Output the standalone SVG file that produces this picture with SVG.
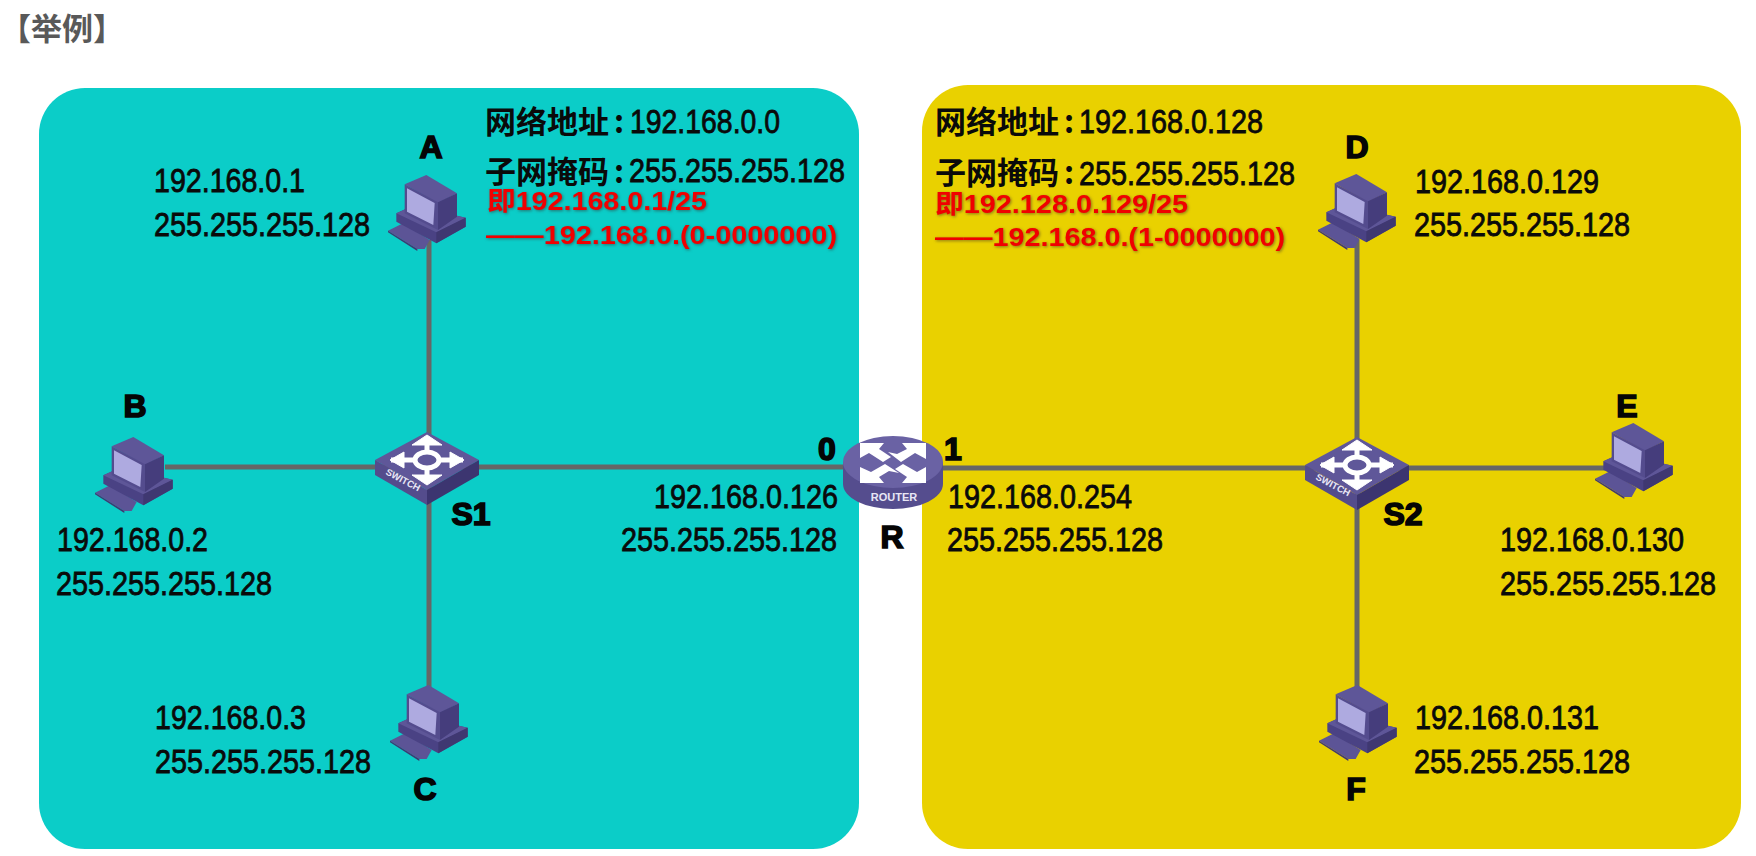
<svg xmlns="http://www.w3.org/2000/svg" width="1756" height="856" viewBox="0 0 1756 856">
<style>
text{font-family:"Liberation Sans","Noto Sans CJK SC",sans-serif}
.ip{font-size:33px;fill:#0a0a0a;stroke:#0a0a0a;stroke-width:.8px}
.cj{font-family:"Noto Sans CJK SC","Liberation Sans",sans-serif;font-size:31px;font-weight:700;fill:#0a0a0a}
.red{font-size:26px;font-weight:700;fill:#f00000;filter:drop-shadow(1.5px 1.5px 1.5px rgba(60,40,40,.55))}
.lab{font-size:32px;font-weight:700;fill:#050505;stroke:#050505;stroke-width:1.6px;text-anchor:middle}
.lnk{stroke:#666;stroke-width:5;fill:none}
</style>
<defs>
<g id="pc" transform="scale(.3333)">
<polygon points="0,167 45,145 125,195 110,222 88,222" fill="#5c5496"/>
<polygon points="0,167 88,222 88,228 0,172" fill="#3f3871"/>
<polygon points="25,115 75,92 233,128 233,155 145,205 25,140" fill="#4a4284"/>
<polygon points="25,115 145,172 233,128 75,92" fill="#5e5698"/>
<polygon points="145,172 233,128 233,155 145,205" fill="#3f3871"/>
<polygon points="50,28 115,0 207,55 150,85" fill="#5e5698"/>
<polygon points="150,82 207,55 207,125 150,165" fill="#453d7c"/>
<polygon points="50,28 150,82 150,165 50,115" fill="#544c8e"/>
<polygon points="57,40 140,84 136,150 57,110" fill="#aeaae0"/>
</g>
<g id="sw" transform="translate(-52,-28)">
<polygon points="0,28 52,0 104,28 52,58" fill="#5f5799"/>
<polygon points="0,28 52,58 52,73 0,43" fill="#544c8c"/>
<polygon points="52,58 104,28 104,43 52,73" fill="#3c3570"/>
<g fill="#fff" stroke="#fff">
<path d="M52,8V48M16,28H88" stroke-width="5" fill="none"/>
<polygon points="52,3 37,13 67,13"/>
<polygon points="52,53 37,43 67,43"/>
<polygon points="15,28 29,20 29,36"/>
<polygon points="89,28 75,20 75,36"/>
<ellipse cx="52" cy="28" rx="12" ry="8" fill="#5f5799" stroke-width="5"/>
</g>
<text transform="translate(10,42) rotate(28)" font-size="9.5" font-weight="700" fill="#e8e6f5">SWITCH</text>
</g>
<g id="rt">
<path d="M-50,0V22A50,25 0 0 0 50,22V0Z" fill="#554d8e"/>
<ellipse cx="0" cy="0" rx="50" ry="26" fill="#6a62a4"/>
<g fill="#fff">
<polygon points="-33,-19 -9,-19 -14,-13 -2,-5 -10,0 -24,-9 -33,-4"/>
<polygon points="33,-19 9,-19 14,-13 4,-8 -5,-10 8,0 22,-9 33,-3"/>
<polygon points="-33,21 -9,21 -14,15 -4,9 6,11 -8,2 -22,10 -33,5"/>
<polygon points="33,21 9,21 14,15 2,7 10,2 24,10 33,5"/>
</g>
<text x="1" y="39" font-size="11" font-weight="700" fill="#e8e6f5" text-anchor="middle">ROUTER</text>
</g>
</defs>
<rect width="1756" height="856" fill="#fff"/>
<text x="0" y="40" font-size="31" font-weight="700" fill="#595959" style="font-family:'Noto Sans CJK SC',sans-serif">【举例】</text>
<rect id="net-left" x="39" y="88" width="820" height="761" rx="46" fill="#0bcdc8"/>
<rect id="net-right" x="922" y="85" width="819" height="764" rx="46" fill="#e9d100"/>
<g id="connectors">
<path class="lnk" d="M429,240V700M165,467H845"/>
<path class="lnk" d="M1357,240V700M940,468H1620"/>
</g>
<g id="A"><use href="#pc" x="388" y="175"/><text class="lab" x="431" y="158">A</text><text class="ip" x="154" y="192" textLength="151" lengthAdjust="spacingAndGlyphs">192.168.0.1</text><text class="ip" x="154" y="236" textLength="216" lengthAdjust="spacingAndGlyphs">255.255.255.128</text></g>
<g id="B"><use href="#pc" x="95" y="437"/><text class="lab" x="135" y="417">B</text><text class="ip" x="57" y="551" textLength="151" lengthAdjust="spacingAndGlyphs">192.168.0.2</text><text class="ip" x="56" y="595" textLength="216" lengthAdjust="spacingAndGlyphs">255.255.255.128</text></g>
<g id="C"><use href="#pc" x="390" y="685"/><text class="lab" x="425" y="800">C</text><text class="ip" x="155" y="729" textLength="151" lengthAdjust="spacingAndGlyphs">192.168.0.3</text><text class="ip" x="155" y="773" textLength="216" lengthAdjust="spacingAndGlyphs">255.255.255.128</text></g>
<g id="D"><use href="#pc" x="1318" y="174"/><text class="lab" x="1357" y="158">D</text><text class="ip" x="1415" y="193" textLength="184" lengthAdjust="spacingAndGlyphs">192.168.0.129</text><text class="ip" x="1414" y="236" textLength="216" lengthAdjust="spacingAndGlyphs">255.255.255.128</text></g>
<g id="E"><use href="#pc" x="1595" y="423"/><text class="lab" x="1627" y="417">E</text><text class="ip" x="1500" y="551" textLength="184" lengthAdjust="spacingAndGlyphs">192.168.0.130</text><text class="ip" x="1500" y="595" textLength="216" lengthAdjust="spacingAndGlyphs">255.255.255.128</text></g>
<g id="F"><use href="#pc" x="1319" y="685"/><text class="lab" x="1356" y="800">F</text><text class="ip" x="1415" y="729" textLength="184" lengthAdjust="spacingAndGlyphs">192.168.0.131</text><text class="ip" x="1414" y="773" textLength="216" lengthAdjust="spacingAndGlyphs">255.255.255.128</text></g>
<g id="S1"><use href="#sw" x="427" y="460"/><text class="lab" x="471" y="525">S1</text></g>
<g id="S2"><use href="#sw" x="1357" y="465"/><text class="lab" x="1403" y="525">S2</text></g>
<g id="R"><use href="#rt" x="893" y="462"/><text class="lab" x="892" y="548">R</text><text class="lab" x="827" y="460">0</text><text class="lab" x="953" y="460">1</text>
<text class="ip" x="654" y="508" textLength="184" lengthAdjust="spacingAndGlyphs">192.168.0.126</text><text class="ip" x="621" y="551" textLength="216" lengthAdjust="spacingAndGlyphs">255.255.255.128</text>
<text class="ip" x="948" y="508" textLength="184" lengthAdjust="spacingAndGlyphs">192.168.0.254</text><text class="ip" x="947" y="551" textLength="216" lengthAdjust="spacingAndGlyphs">255.255.255.128</text></g>
<g id="info-left">
<text class="cj" x="485" y="133">网络地址<tspan x="614">:</tspan></text><text class="ip" x="630" y="133" textLength="150" lengthAdjust="spacingAndGlyphs">192.168.0.0</text>
<text class="cj" x="485" y="183">子网掩码<tspan x="614">:</tspan></text><text class="ip" x="629" y="182" textLength="216" lengthAdjust="spacingAndGlyphs">255.255.255.128</text>
<text class="red" x="487" y="210" textLength="220" lengthAdjust="spacingAndGlyphs"><tspan style="font-family:'Noto Sans CJK SC',sans-serif">即</tspan>192.168.0.1/25</text>
<text class="red" x="486" y="244" textLength="351" lengthAdjust="spacingAndGlyphs">——192.168.0.(0-0000000)</text>
</g>
<g id="info-right">
<text class="cj" x="935" y="133">网络地址<tspan x="1064">:</tspan></text><text class="ip" x="1079" y="133" textLength="184" lengthAdjust="spacingAndGlyphs">192.168.0.128</text>
<text class="cj" x="935" y="184">子网掩码<tspan x="1064">:</tspan></text><text class="ip" x="1079" y="185" textLength="216" lengthAdjust="spacingAndGlyphs">255.255.255.128</text>
<text class="red" x="935" y="213" textLength="253" lengthAdjust="spacingAndGlyphs"><tspan style="font-family:'Noto Sans CJK SC',sans-serif">即</tspan>192.128.0.129/25</text>
<text class="red" x="935" y="246" textLength="350" lengthAdjust="spacingAndGlyphs">——192.168.0.(1-0000000)</text>
</g>
</svg>
